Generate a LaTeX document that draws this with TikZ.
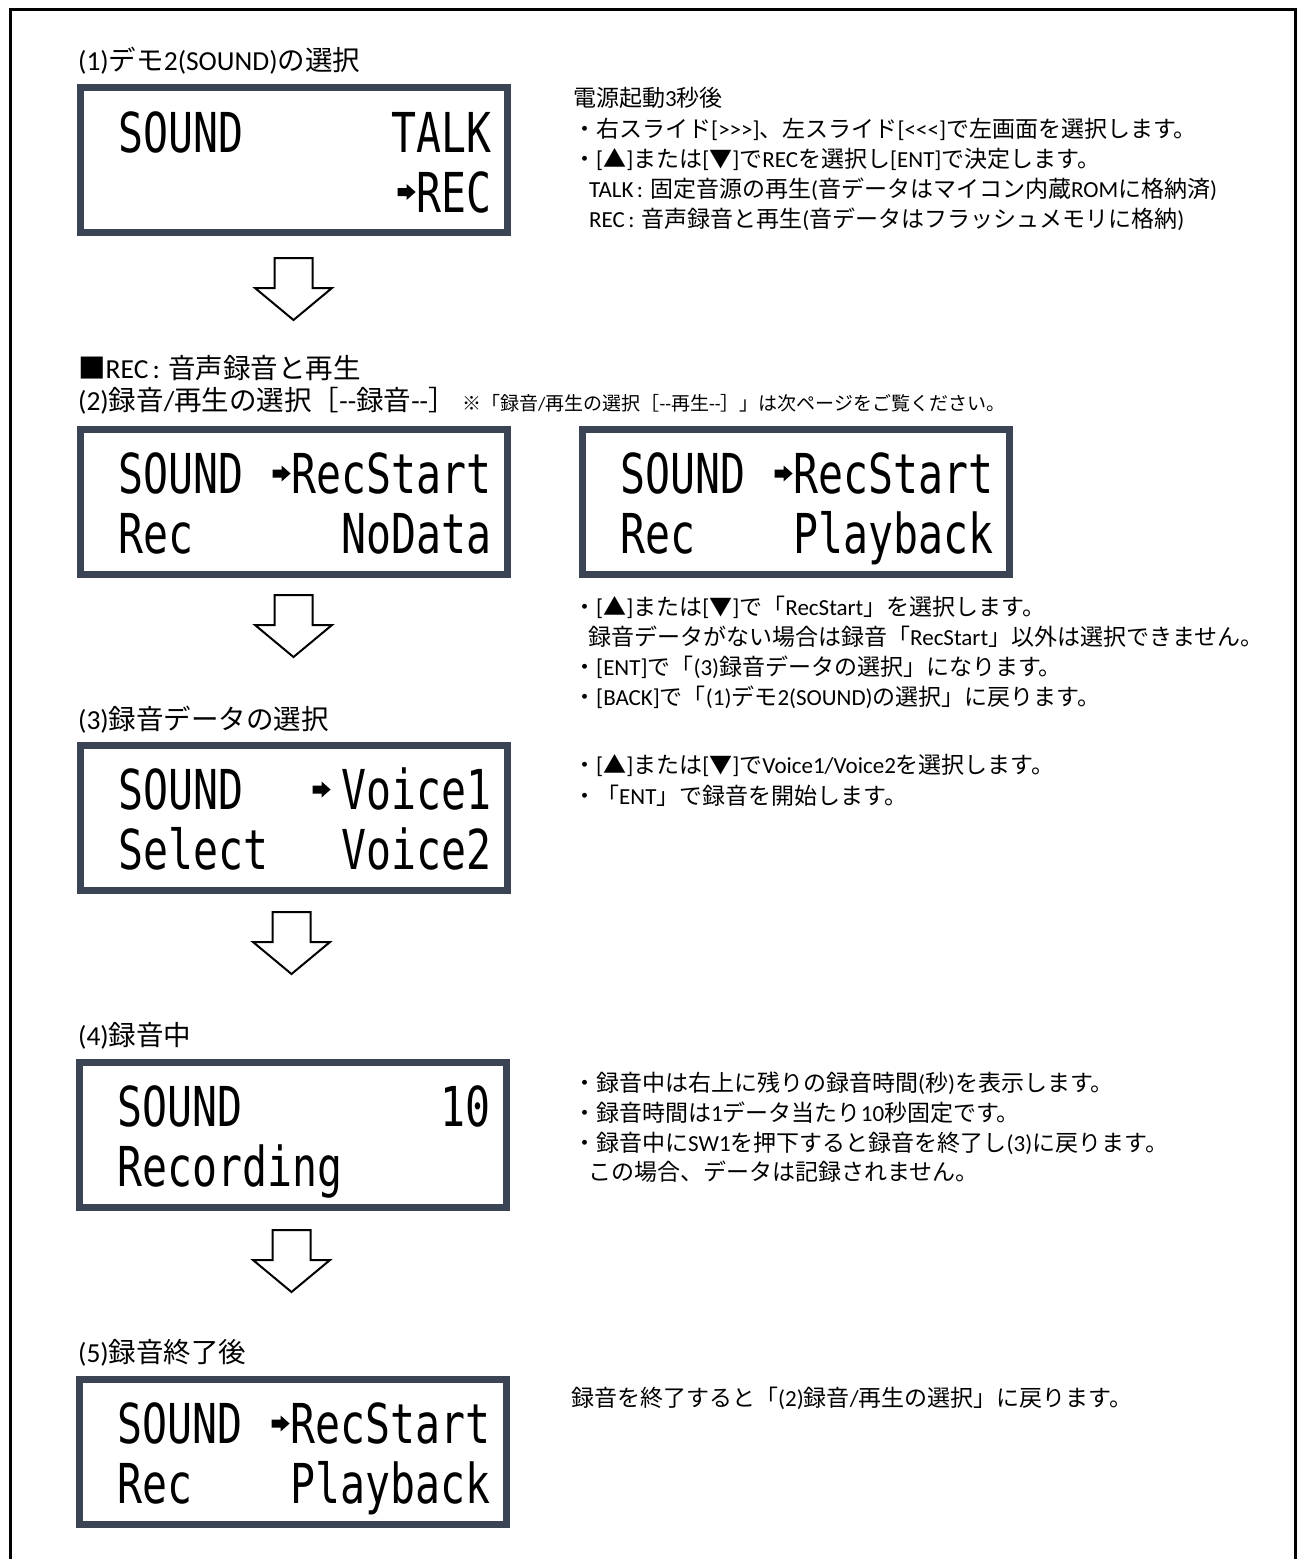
\documentclass[tikz,border=0pt]{standalone}
\usepackage{fontspec}
\setmainfont{Carlito}
\newfontfamily\jpfont{Noto Sans CJK JP}
\newfontfamily\latfont{Carlito}
\newfontfamily\lcdfont[FakeStretch=0.755]{DejaVu Sans Mono}
\usetikzlibrary{calc}
\newcount\jpcc
\def\setjprange#1#2{\jpcc=#1\relax\loop\XeTeXcharclass\jpcc=7\relax\ifnum\jpcc<#2\relax\advance\jpcc by 1\relax\repeat}
\setjprange{"3000}{"30FF}
\setjprange{"4E00}{"9FFF}
\setjprange{"FF01}{"FF60}
\XeTeXcharclass"25A0=7
\XeTeXcharclass"25B2=7
\XeTeXcharclass"25BC=7
\XeTeXcharclass"203B=7
\XeTeXinterchartokenstate=1
\XeTeXinterchartoks 0 7 = {\jpfont}
\XeTeXinterchartoks 4095 7 = {\jpfont}
\XeTeXinterchartoks 7 0 = {\latfont}
\XeTeXinterchartoks 7 4095 = {\latfont}
\definecolor{lcdborder}{HTML}{3B4454}
\newcommand\jcolon{\hspace{0.15em}:\hspace{0.3em}}
\tikzset{
  lcd/.style={draw=lcdborder, line width=7pt, minimum width=427pt, minimum height=145pt, inner sep=0pt, fill=white},
  lcdl/.style={anchor=base west, inner sep=0pt, font=\lcdfont\fontsize{55}{55}\selectfont},
  lcdr/.style={anchor=base east, inner sep=0pt, font=\lcdfont\fontsize{55}{55}\selectfont},
  hdr/.style={anchor=base west, inner sep=0pt, font=\fontsize{27.5}{30}\selectfont},
  rtxt/.style={anchor=base west, inner sep=0pt, font=\fontsize{23}{27}\selectfont},
  notetxt/.style={anchor=base west, inner sep=0pt, font=\fontsize{19}{22}\selectfont},
  downarr/.pic={\draw[line width=2pt, fill=white, line join=miter] (-19,0) -- (19,0) -- (19,30) -- (38.5,30) -- (0,62) -- (-38.5,30) -- (-19,30) -- cycle;},
  cursorarr/.pic={\fill (0,0) -- (-9,-8) -- (-9,-4) -- (-18,-4) -- (-18,4) -- (-9,4) -- (-9,8) -- cycle;}
}
\begin{document}
\begin{tikzpicture}[x=1pt,y=-1pt]
\useasboundingbox (0,0) rectangle (1302,1559);
\fill[white] (0,0) rectangle (1302,1559);
% outer frame (open at the bottom)
\draw[line width=3.5pt] (10.5,1600) -- (10.5,9.5) -- (1295.5,9.5) -- (1295.5,1600);

% ---------- (1)
\node[hdr] (h1) at (78,70) {(1)デモ2(SOUND)の選択};
\node[lcd] (b1) at (294,160) {};
\node[lcdl] (b1a) at ($(b1.north west)+(41,68)$) {SOUND};
\node[lcdr] (b1b) at ($(b1.north east)+(-19,68)$) {TALK};
\node[lcdr] (b1c) at ($(b1.north east)+(-19,128)$) {REC};
\pic at ($(b1c.base west)+(-1,-20)$) {cursorarr};

\node[rtxt] (t1a) at (573,106) {電源起動3秒後};
\node[rtxt] (t1b) at (573,137) {・右スライド[>>>]、左スライド[<<<]で左画面を選択します。};
\node[rtxt] (t1c) at (573,167) {・[▲]または[▼]でRECを選択し[ENT]で決定します。};
\node[rtxt] (t1d) at (589,197) {TALK\jcolon 固定音源の再生(音データはマイコン内蔵ROMに格納済)};
\node[rtxt] (t1e) at (589,227) {REC\jcolon 音声録音と再生(音データはフラッシュメモリに格納)};

\pic at (293.5,258) {downarr};

% ---------- (2)
\node[hdr] (h2a) at (78,378) {■REC\jcolon 音声録音と再生};
\node[hdr] (h2b) at (78,410) {(2)録音/再生の選択［--録音--］};
\node[notetxt] (h2c) at (462,410) {※「録音/再生の選択［--再生--］」は次ページをご覧ください。};

\node[lcd] (b2) at (294,501.5) {};
\node[lcdl] (b2a) at ($(b2.north west)+(41,68)$) {SOUND};
\node[lcdr] (b2b) at ($(b2.north east)+(-19,68)$) {RecStart};
\pic at ($(b2b.base west)+(-1,-20)$) {cursorarr};
\node[lcdl] (b2c) at ($(b2.north west)+(41,128)$) {Rec};
\node[lcdr] (b2d) at ($(b2.north east)+(-19,128)$) {NoData};

\node[lcd] (c2) at (796,501.5) {};
\node[lcdl] (c2a) at ($(c2.north west)+(41,68)$) {SOUND};
\node[lcdr] (c2b) at ($(c2.north east)+(-19,68)$) {RecStart};
\pic at ($(c2b.base west)+(-1,-20)$) {cursorarr};
\node[lcdl] (c2c) at ($(c2.north west)+(41,128)$) {Rec};
\node[lcdr] (c2d) at ($(c2.north east)+(-19,128)$) {Playback};

\node[rtxt] (t2a) at (573,615) {・[▲]または[▼]で「RecStart」を選択します。};
\node[rtxt] (t2b) at (588,645) {録音データがない場合は録音「RecStart」以外は選択できません。};
\node[rtxt] (t2c) at (573,675) {・[ENT]で「(3)録音データの選択」になります。};
\node[rtxt] (t2d) at (573,705) {・[BACK]で「(1)デモ2(SOUND)の選択」に戻ります。};

\pic at (293.5,595) {downarr};

% ---------- (3)
\node[hdr] (h3) at (78,729) {(3)録音データの選択};
\node[lcd] (b3) at (294,817.5) {};
\node[lcdl] (b3a) at ($(b3.north west)+(41,68)$) {SOUND};
\node[lcdr] (b3b) at ($(b3.north east)+(-19,68)$) {Voice1};
\pic at ($(b3b.base west)+(-11,-20)$) {cursorarr};
\node[lcdl] (b3c) at ($(b3.north west)+(41,128)$) {Select};
\node[lcdr] (b3d) at ($(b3.north east)+(-19,128)$) {Voice2};

\node[rtxt] (t3a) at (573,773) {・[▲]または[▼]でVoice1/Voice2を選択します。};
\node[rtxt] (t3b) at (573,804) {・「ENT」で録音を開始します。};

\pic at (291.5,912) {downarr};

% ---------- (4)
\node[hdr] (h4) at (78,1045) {(4)録音中};
\node[lcd] (b4) at (293,1134.5) {};
\node[lcdl] (b4a) at ($(b4.north west)+(41,68)$) {SOUND};
\node[lcdr] (b4b) at ($(b4.north east)+(-19,68)$) {10};
\node[lcdl] (b4c) at ($(b4.north west)+(41,128)$) {Recording};

\node[rtxt] (t4a) at (573,1091) {・録音中は右上に残りの録音時間(秒)を表示します。};
\node[rtxt] (t4b) at (573,1121) {・録音時間は1データ当たり10秒固定です。};
\node[rtxt] (t4c) at (573,1151) {・録音中にSW1を押下すると録音を終了し(3)に戻ります。};
\node[rtxt] (t4d) at (588,1180) {この場合、データは記録されません。};

\pic at (291.5,1230) {downarr};

% ---------- (5)
\node[hdr] (h5) at (78,1362) {(5)録音終了後};
\node[lcd] (b5) at (293,1451.5) {};
\node[lcdl] (b5a) at ($(b5.north west)+(41,68)$) {SOUND};
\node[lcdr] (b5b) at ($(b5.north east)+(-19,68)$) {RecStart};
\pic at ($(b5b.base west)+(-1,-20)$) {cursorarr};
\node[lcdl] (b5c) at ($(b5.north west)+(41,128)$) {Rec};
\node[lcdr] (b5d) at ($(b5.north east)+(-19,128)$) {Playback};

\node[rtxt] (t5a) at (571,1406) {録音を終了すると「(2)録音/再生の選択」に戻ります。};
\end{tikzpicture}
\end{document}
